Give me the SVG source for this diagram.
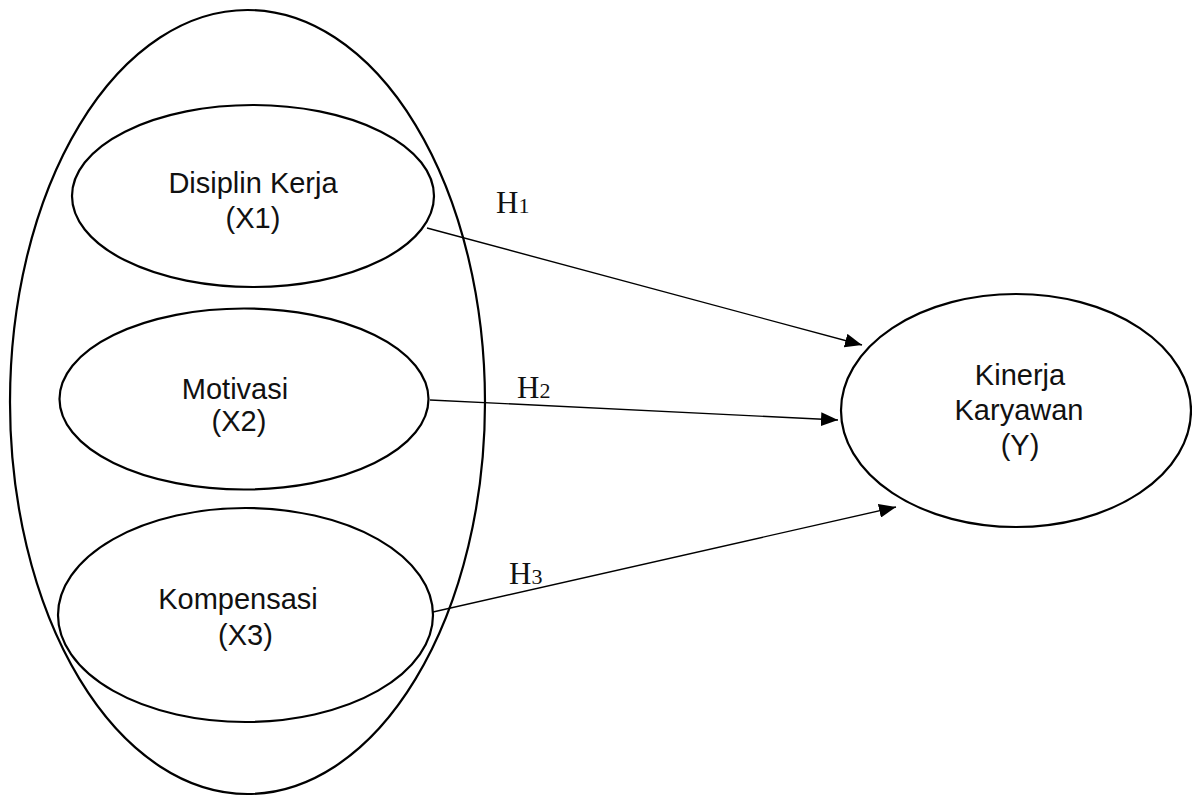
<svg xmlns="http://www.w3.org/2000/svg" width="1192" height="796" viewBox="0 0 1192 796">
<defs>
<style>
.node{fill:none;stroke:#000;stroke-width:2.2}
.lbl{font-family:"Liberation Sans",Arial,sans-serif;font-size:29px;fill:#111;text-anchor:middle}
.edge{stroke:#000;stroke-width:1.4;fill:none;marker-end:url(#arr)}
.h{font-family:"Liberation Serif","Times New Roman",serif;font-size:31px;fill:#111}
.sub{font-size:22px}
</style>
<marker id="arr" markerUnits="userSpaceOnUse" markerWidth="18" markerHeight="14" refX="17" refY="7" orient="auto">
<path d="M0,0 L17,7 L0,14 Z" fill="#000"/>
</marker>
</defs>
<rect width="1192" height="796" fill="#fff"/>
<g id="group-x">
<ellipse class="node" cx="247.5" cy="402" rx="237.5" ry="392"/>
</g>
<g id="x1">
<ellipse class="node" cx="253" cy="196" rx="181" ry="91"/>
<text class="lbl" x="253" y="193">Disiplin Kerja</text>
<text class="lbl" x="253" y="228">(X1)</text>
</g>
<g id="x2">
<ellipse class="node" cx="244" cy="399" rx="184.5" ry="90.5"/>
<text class="lbl" x="235" y="399">Motivasi</text>
<text class="lbl" x="239" y="431">(X2)</text>
</g>
<g id="x3">
<ellipse class="node" cx="245.5" cy="615" rx="187.5" ry="107"/>
<text class="lbl" x="238" y="609">Kompensasi</text>
<text class="lbl" x="245.5" y="645">(X3)</text>
</g>
<g id="y">
<ellipse class="node" cx="1016" cy="410.5" rx="175" ry="116.5"/>
<text class="lbl" x="1020" y="385">Kinerja</text>
<text class="lbl" x="1019" y="420">Karyawan</text>
<text class="lbl" x="1020" y="455">(Y)</text>
</g>
<g id="connectors">
<line class="edge" x1="427" y1="228" x2="862" y2="345"/>
<line class="edge" x1="430" y1="400" x2="838" y2="420"/>
<line class="edge" x1="433" y1="612" x2="896" y2="507"/>
<text class="h" x="496" y="213">H<tspan class="sub">1</tspan></text>
<text class="h" x="517" y="398">H<tspan class="sub">2</tspan></text>
<text class="h" x="509" y="584">H<tspan class="sub">3</tspan></text>
</g>
</svg>
